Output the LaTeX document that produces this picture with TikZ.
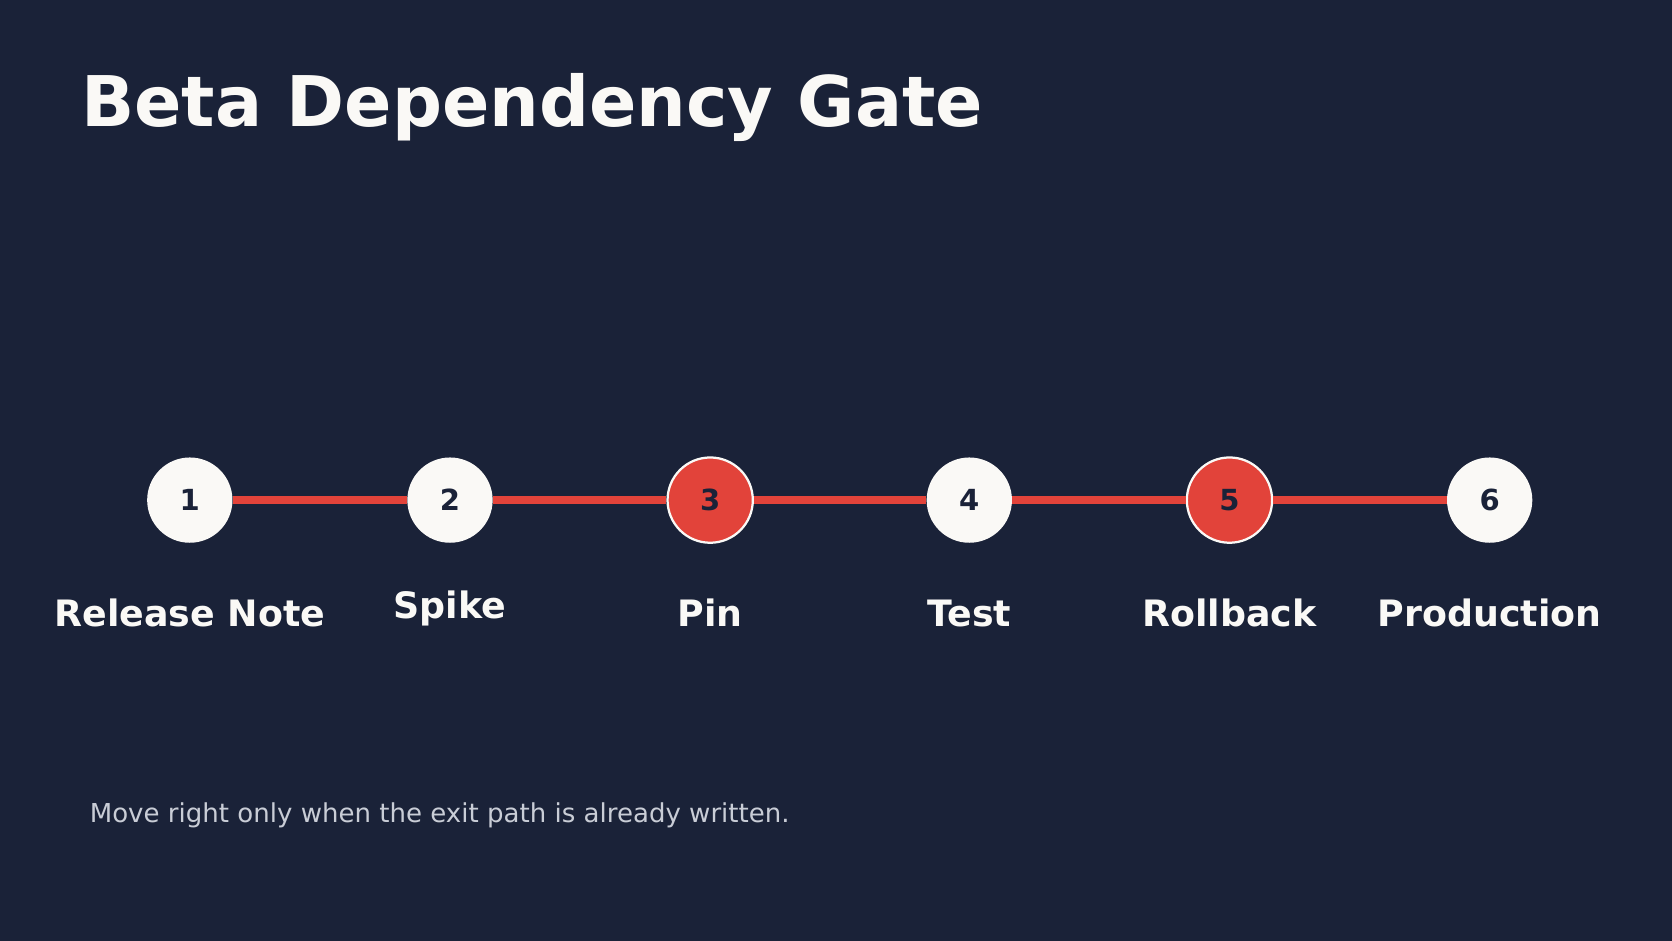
\documentclass[tikz,border=0pt]{standalone}
\usepackage{fontspec}
\setmainfont{DejaVu Sans}
\usetikzlibrary{positioning}
\definecolor{bgnavy}{HTML}{1A2238}
\definecolor{gatered}{HTML}{E2433A}
\definecolor{chalk}{HTML}{FAF9F6}
\definecolor{mist}{HTML}{C9CDD6}
\tikzset{step node/.style={circle,fill=chalk,minimum size=1.6cm,inner sep=0pt,font=\bfseries\fontsize{15.5}{15.5}\selectfont,text=bgnavy,text depth=-0.12cm},
  gate node/.style={step node,fill=gatered,draw=chalk,line width=1.2pt},
  step label/.style={font=\bfseries\fontsize{19.4}{19.4}\selectfont,text=chalk},
}

\begin{document}
\begin{tikzpicture}[x=0.02cm,y=-0.02cm]
				\fill[bgnavy] (0,0) rectangle (1568,882);
				\useasboundingbox (0,0) rectangle (1568,882);
				\node[anchor=west,font=\bfseries\fontsize{37.3}{37.3}\selectfont,text=chalk] (title) at (70,101) {Beta Dependency Gate};
				
				\node[step node] (S1) at (178,469) {1};
				\node[step node] (S2) at (422,469) {2};
				\node[gate node] (S3) at (666,469) {3};
				\node[step node] (S4) at (909,469) {4};
				\node[gate node] (S5) at (1153,469) {5};
				\node[step node] (S6) at (1397,469) {6};
				
				\path[draw,gatered,line width=4.5pt]
				(S1) -- (S2) (S2) -- (S3) (S3) -- (S4) (S4) -- (S5) (S5) -- (S6);
				
				\node[step label] (L1) at (178,575) {Release Note};
				\node[step label] (L2) at (422,571) {Spike};
				\node[step label] (L3) at (666,575) {Pin};
				\node[step label] (L4) at (909,575) {Test};
				\node[step label] (L5) at (1153,575) {Rollback};
				\node[step label] (L6) at (1397,575) {Production};
				
				\node[anchor=west,font=\fontsize{13.9}{13.9}\selectfont,text=mist] (note) at (78,765) {Move right only when the exit path is already written.};
			\end{tikzpicture}
\end{document}
